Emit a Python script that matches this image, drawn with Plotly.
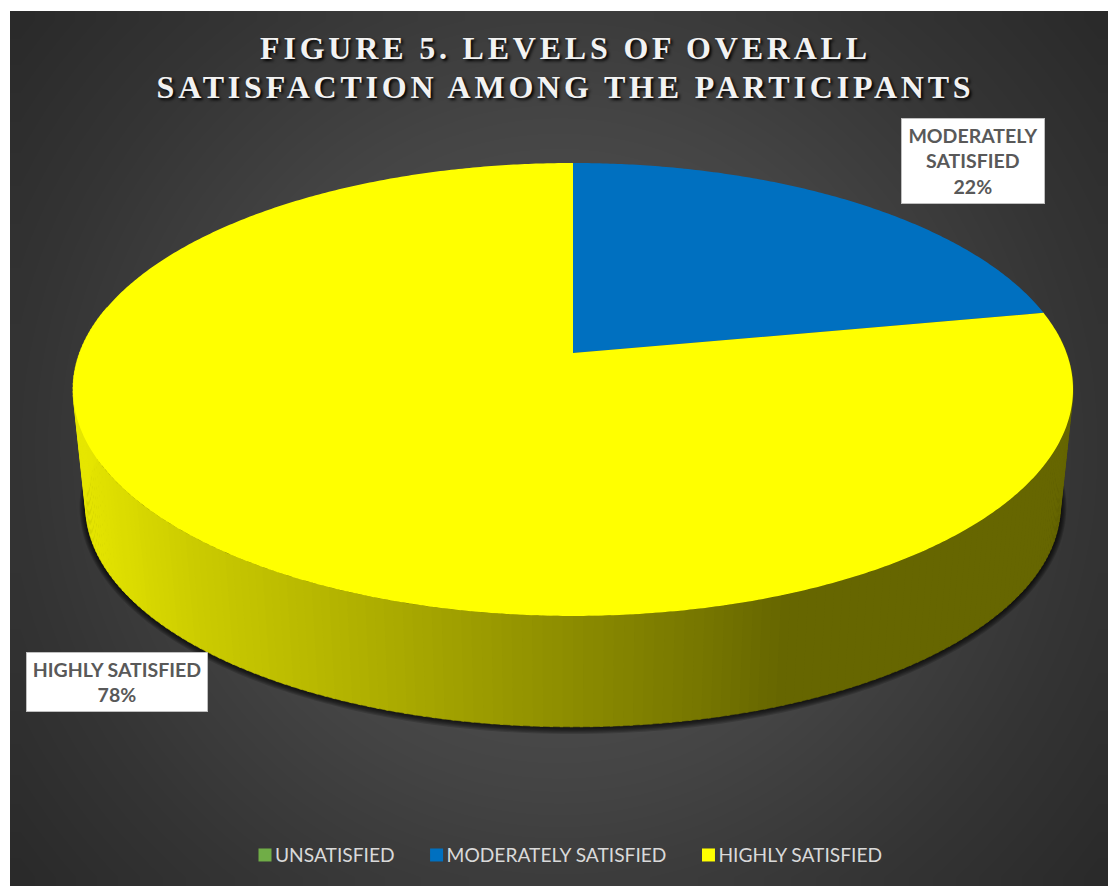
import numpy as np
import plotly.graph_objects as go

# ---- data
categories = ["UNSATISFIED", "MODERATELY SATISFIED", "HIGHLY SATISFIED"]
percent_values = [0, 22, 78]
slice_colors = ["#70ad47", "#0070c0", "#ffff00"]
title_lines = ["FIGURE 5. LEVELS OF OVERALL", "SATISFACTION AMONG THE PARTICIPANTS"]

# ---- view geometry of the tilted disc (axes run in page pixels)
CX, TOP_APEX, BOT_APEX = 573.0, 353.0, 470.6
TOP_A, TOP_B, BOT_A, BOT_B, K = 493.5, 220.6, 481.0, 215.0, 0.161


def project(theta_deg, a, b, apex, grow=0.0):
    t = np.radians(theta_deg)
    u, v = np.sin(t), -np.cos(t)
    d = 1 - K * v
    return CX + (a + grow) * u / d, apex + (b + grow) * v / d


def background():
    xs = np.linspace(10, 1108, 56)
    ys = np.linspace(11, 886, 46)
    xc, yc = (xs[:-1] + xs[1:]) / 2, (ys[:-1] + ys[1:]) / 2
    xx, yy = np.meshgrid(xc, yc)
    r = np.hypot(xx - 559, yy - 448)
    z = np.interp(r, [0, 338, 407, 530, 700, 800], [90, 68, 62, 52, 41, 38])
    return go.Heatmap(x=xs, y=ys, z=z, zmin=0, zmax=255, zsmooth="best",
                      colorscale=[[0, "#000000"], [1, "#ffffff"]], showscale=False,
                      hoverinfo="skip")


fig = go.Figure()
fig.add_trace(background())

# soft shadow around the lower wall
for e in [6, 5, 4, 3, 2, 1]:
    th = np.linspace(90, 270, 181)
    bx, by = project(th, BOT_A, BOT_B, BOT_APEX, e)
    tx = [CX - 498 - e * 0.1, CX + 498 + e * 0.1]
    ty = [400, 400]
    fig.add_trace(go.Scatter(x=[tx[1], *bx, tx[0]], y=[ty[1], *by, ty[0]], fill="toself",
                             mode="none", fillcolor="rgba(0,0,0,0.17)", showlegend=False,
                             hoverinfo="skip"))

# shaded wall
shade_x = [75, 90, 200, 378, 557, 691, 780, 1080]
shade_v = [232, 230, 204, 174, 143, 120, 102, 102]
for a in np.arange(84, 282, 1.0):
    th = np.array([a, a + 1.3])
    tx, ty = project(th, TOP_A, TOP_B, TOP_APEX)
    bx, by = project(th, BOT_A, BOT_B, BOT_APEX)
    g = int(np.interp(np.mean(bx), shade_x, shade_v))
    col = f"rgb({g},{g},0)"
    fig.add_trace(go.Scatter(x=[*tx, *bx[::-1]], y=[*ty, *by[::-1]], fill="toself", mode="lines",
                             line=dict(color=col, width=0.5), fillcolor=col, showlegend=False,
                             hoverinfo="skip"))

# top face: slices swept clockwise from 12 o'clock
start = 0.0
total = sum(percent_values)
for name, val, col in zip(categories, percent_values, slice_colors):
    sweep = 360.0 * val / total
    if val > 0:
        th = np.linspace(start, start + sweep, max(int(sweep * 2), 3))
        x, y = project(th, TOP_A, TOP_B, TOP_APEX)
        fig.add_trace(go.Scatter(x=[CX, *x, CX], y=[TOP_APEX, *y, TOP_APEX], fill="toself",
                                 mode="none", fillcolor=col, showlegend=False, name=name,
                                 hovertemplate=f"{name}: {val}%<extra></extra>"))
    start += sweep

# legend entries
for name, col in zip(categories, slice_colors):
    fig.add_trace(go.Scatter(x=[None], y=[None], mode="markers", name=name,
                             marker=dict(symbol="square", size=13, color=col), hoverinfo="skip"))

label_font = dict(family="Lato", size=19.5, color="#595959", weight=700)
fig.add_annotation(x=972.5, y=160.5, xref="x", yref="y", width=142, height=84,
                   text=f"MODERATELY<br>SATISFIED<br>{percent_values[1]}%", showarrow=False,
                   bgcolor="#ffffff", bordercolor="#bfbfbf", borderwidth=1, borderpad=0,
                   font=label_font, align="center", valign="middle")
fig.add_annotation(x=116.5, y=681.5, xref="x", yref="y", width=180, height=58,
                   text=f"HIGHLY SATISFIED<br>{percent_values[2]}%", showarrow=False,
                   bgcolor="#ffffff", bordercolor="#bfbfbf", borderwidth=1, borderpad=0,
                   font=label_font, align="center", valign="middle")

fig.update_layout(
    width=1108, height=886, autosize=False,
    margin=dict(l=0, r=0, t=0, b=0),
    paper_bgcolor="#ffffff", plot_bgcolor="#ffffff",
    xaxis=dict(range=[0, 1108], visible=False, fixedrange=True),
    yaxis=dict(range=[886, 0], visible=False, fixedrange=True),
    title=dict(text="<br>".join(title_lines), x=565.5 / 1108, xanchor="center", xref="paper",
               y=1 - 59 / 886, yanchor="top", yref="paper",
               font=dict(family="Liberation Serif", size=32, color="#f2f2f2", weight=700,
                         shadow="2px 2px 3px #000000")),
    legend=dict(orientation="h", x=235 / 1108, xanchor="left", y=1 - 855 / 886, yanchor="middle",
                bgcolor="rgba(0,0,0,0)", font=dict(family="Lato", size=19.2, color="#d9d9d9"),
                itemwidth=30, traceorder="normal"),
)

post = """
var gd = document.getElementById('{plot_id}');
document.body.style.margin = '0';
gd.querySelectorAll('.gtitle').forEach(function (t) { t.style.letterSpacing = '3.8px'; });
var lines = gd.querySelectorAll('.gtitle tspan.line');
if (lines.length > 1) { lines[1].setAttribute('dy', '1.22em'); }
gd.querySelectorAll('.legendpoints').forEach(function (p) { p.setAttribute('transform', 'translate(10,0)'); });
gd.querySelectorAll('.legend .scrollbox').forEach(function (s) { s.removeAttribute('clip-path'); });
var bg = gd.querySelector('.legend');
if (bg) { bg.removeAttribute('clip-path'); }
gd.querySelectorAll('.legend .traces').forEach(function (t, i) {
  var m = /translate\\(([-\\d.]+),?\\s*([-\\d.]*)\\)/.exec(t.getAttribute('transform') || '');
  if (m) { t.setAttribute('transform', 'translate(' + (parseFloat(m[1]) + 7 * i) + ',' + (parseFloat(m[2]) || 0) + ')'); }
});
"""
fig.write_html("out.html", post_script=post, config={"displayModeBar": False})
